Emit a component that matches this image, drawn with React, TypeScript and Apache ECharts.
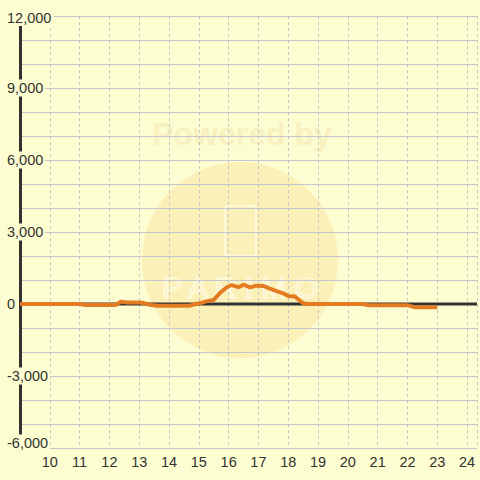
import React, { useEffect, useRef } from "react";
import * as echarts from "echarts";

const hours = [9, 11, 11.2, 12.2, 12.4, 12.6, 13.0, 13.1, 13.4, 13.6, 14.7, 14.9, 15.07, 15.25, 15.5, 15.72, 15.94, 16.1, 16.33, 16.5, 16.72, 16.94, 17.17, 17.39, 17.61, 17.83, 18.0, 18.22, 18.39, 18.5, 18.67, 20.5, 20.7, 22.0, 22.25, 23.0];
const values = [0, 0, -40, -40, 100, 60, 60, 50, -40, -70, -70, 0, 40, 110, 170, 470, 700, 790, 700, 805, 690, 765, 750, 640, 540, 445, 330, 310, 140, 30, 0, 0, -50, -50, -140, -140];
const xTickLabels = [10, 11, 12, 13, 14, 15, 16, 17, 18, 19, 20, 21, 22, 23, 24];
const yLabelValues = [-6000, -3000, 0, 3000, 6000, 9000, 12000];
const zeroLineValue = 0;

const BG = "#fdfdd2";
const FONT = "Liberation Sans, Arial, sans-serif";
const X_MIN = 9;
const X_MAX = 9 + 460 / 30;

export default function App() {
  const ref = useRef<HTMLDivElement>(null);
  useEffect(() => {
    if (!ref.current) return;
    const chart = echarts.init(ref.current, undefined, { renderer: "svg" });
    const labelStyle = { fontSize: 14.5, color: "#333", fontFamily: FONT };
    chart.setOption({
      animation: false,
      backgroundColor: BG,
      grid: { left: 20, right: 0, top: 16, bottom: 32, containLabel: false },
      graphic: [
        {
          type: "circle",
          z: -10,
          shape: { cx: 240, cy: 260, r: 98 },
          style: { fill: "#fbf1b8" },
          silent: true,
        },
        {
          type: "text",
          z: -9,
          x: 242,
          y: 134,
          style: {
            text: "Powered by",
            font: "bold 32px Liberation Sans, Arial, sans-serif",
            fill: "#f8f1bf",
            align: "center",
            verticalAlign: "middle",
          },
          silent: true,
        },
        {
          type: "rect",
          z: -9,
          shape: { x: 225, y: 206, width: 31, height: 50, r: 3 },
          style: { fill: "none", stroke: "#fffbe6", lineWidth: 1.5 },
          silent: true,
        },
        {
          type: "text",
          z: -9,
          x: 240,
          y: 287,
          style: {
            text: "P A R I M O",
            font: "30px Liberation Sans, Arial, sans-serif",
            fill: "none",
            stroke: "#fffbe6",
            lineWidth: 1.2,
            align: "center",
            verticalAlign: "middle",
          },
          silent: true,
        },
      ],
      xAxis: {
        type: "value",
        min: X_MIN,
        max: X_MAX,
        interval: 1,
        axisLine: { show: false, onZero: false },
        axisTick: { show: false },
        minorTick: { show: false },
        minorSplitLine: { show: false },
        axisLabel: {
          ...labelStyle,
          margin: 6,
          formatter: (v: number) =>
            xTickLabels.includes(Math.round(v)) && Math.abs(v - Math.round(v)) < 1e-6 ? String(Math.round(v)) : "",
        },
        splitLine: { show: true, lineStyle: { color: "#c4c4c4", width: 1, type: [3, 3] } },
      },
      yAxis: {
        type: "value",
        min: -6000,
        max: 12000,
        interval: 1000,
        axisLine: { show: true, onZero: false, lineStyle: { color: "#333", width: 3 } },
        axisTick: { show: false },
        minorTick: { show: false },
        minorSplitLine: { show: false },
        splitLine: { show: true, lineStyle: { color: "#c6c6cf", width: 1 } },
        axisLabel: {
          ...labelStyle,
          align: "left",
          margin: 13,
          formatter: (v: number) => {
            if (!yLabelValues.includes(v)) return "";
            const s = v.toLocaleString("en-US");
            if (v === 12000) return `{top|${s}}`;
            if (v === -6000) return `{bot|${s}}`;
            return `{n|${s}}`;
          },
          rich: {
            n: { ...labelStyle, backgroundColor: BG, padding: [1, 2, 1, 0] },
            top: { ...labelStyle, backgroundColor: BG, padding: [4, 2, 1, 0] },
            bot: { ...labelStyle, backgroundColor: BG, padding: [1, 2, 11, 0] },
          },
        },
      },
      series: [
        {
          type: "line",
          data: [
            [X_MIN, zeroLineValue],
            [X_MAX, zeroLineValue],
          ],
          showSymbol: false,
          symbol: "none",
          lineStyle: { color: "#333", width: 3 },
          z: 2,
          silent: true,
        },
        {
          type: "line",
          data: hours.map((h, i) => [h, values[i]]),
          showSymbol: false,
          symbol: "none",
          lineStyle: { color: "#e27b22", width: 4 },
          z: 3,
        },
      ],
    });
    return () => chart.dispose();
  }, []);
  return (
    <div
      ref={ref}
      style={{ position: "fixed", left: 0, top: 0, width: 480, height: 480 }}
    />
  );
}
